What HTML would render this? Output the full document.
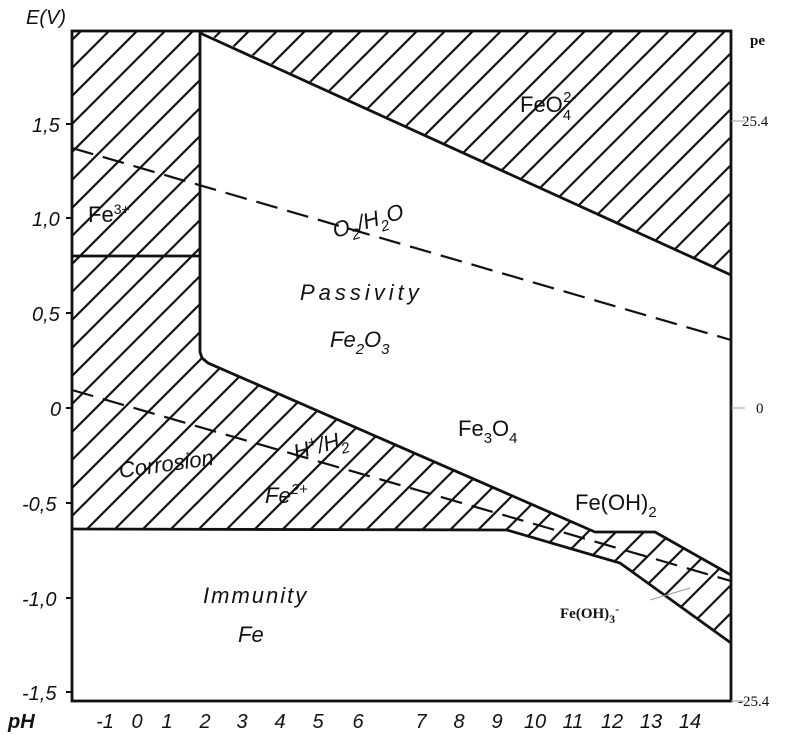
<!DOCTYPE html>
<html><head><meta charset="utf-8"><style>
body{margin:0;background:#fff;}
svg{display:block;}
.l{font-family:"Liberation Sans",sans-serif;font-style:italic;fill:#111;}
.s{font-family:"Liberation Serif",serif;font-weight:bold;fill:#111;}
</style></head><body>
<svg width="800" height="735" viewBox="0 0 800 735">
<defs>
<pattern id="h" patternUnits="userSpaceOnUse" width="28" height="28">
<path d="M-7,7 L7,-7 M0,28 L28,0 M21,35 L35,21" stroke="#111" stroke-width="2.2"/>
</pattern>
</defs>
<g fill="url(#h)" stroke="none">
<polygon points="72,31 200,31 200,355 207,362 595,532 655,532 731,575 731,643 620,563 507,530 72,530"/>
<polygon points="200,31 731,31 731,275"/>
</g>
<g stroke="#111" stroke-width="2.8" fill="none">
<rect x="72" y="31" width="659" height="670"/>
<polyline points="200,31 200,352 202,358 208,363 595,532 655,532 731,575"/>
<polyline points="72,529 507,530 620,563 731,643"/>
<line x1="200" y1="33" x2="731" y2="275"/>
<line x1="72" y1="256" x2="200" y2="256"/>
</g>
<g stroke="#111" stroke-width="2.2" stroke-dasharray="22,10" fill="none">
<line x1="72" y1="148" x2="731" y2="340"/>
<line x1="72" y1="390" x2="731" y2="581"/>
</g>
<g stroke="#111" stroke-width="2">
<line x1="66" y1="124" x2="72" y2="124"/><line x1="66" y1="218" x2="72" y2="218"/>
<line x1="66" y1="313" x2="72" y2="313"/><line x1="66" y1="408" x2="72" y2="408"/>
<line x1="66" y1="503" x2="72" y2="503"/><line x1="66" y1="598" x2="72" y2="598"/>
<line x1="66" y1="692" x2="72" y2="692"/>
</g>
<g stroke="#999" stroke-width="1">
<line x1="731" y1="121" x2="745" y2="121"/><line x1="731" y1="408" x2="745" y2="408"/>
<line x1="731" y1="701" x2="745" y2="701"/><line x1="650" y1="600" x2="690" y2="588"/>
</g>
<g class="l" font-size="20">
<text x="26" y="24">E(V)</text>
<text x="32" y="132">1,5</text><text x="32" y="226">1,0</text>
<text x="32" y="321">0,5</text><text x="50" y="416">0</text>
<text x="22" y="511">-0,5</text><text x="22" y="606">-1,0</text>
<text x="22" y="700">-1,5</text>
<text x="8" y="728" font-weight="bold">pH</text>
</g>
<g class="l" font-size="20" text-anchor="middle">
<text x="105" y="728">-1</text><text x="137" y="728">0</text><text x="167" y="728">1</text>
<text x="205" y="728">2</text><text x="242" y="728">3</text><text x="280" y="728">4</text>
<text x="318" y="728">5</text><text x="358" y="728">6</text><text x="421" y="728">7</text>
<text x="459" y="728">8</text><text x="497" y="728">9</text><text x="535" y="728">10</text>
<text x="573" y="728">11</text><text x="612" y="728">12</text><text x="651" y="728">13</text>
<text x="690" y="728">14</text>
</g>
<g class="s" font-size="15">
<text x="750" y="45">pe</text>
<text x="742" y="126" font-weight="normal">25.4</text>
<text x="756" y="413" font-weight="normal">0</text>
<text x="738" y="706" font-weight="normal">-25.4</text>
<text x="560" y="618">Fe(OH)<tspan font-size="12" dy="5">3</tspan><tspan font-size="12" dy="-10">-</tspan></text>
</g>
<g font-family="Liberation Sans,sans-serif" fill="#111" font-size="22">
<text x="88" y="222">Fe<tspan font-size="14" dy="-8">3+</tspan></text>
<text x="520" y="112">FeO<tspan font-size="15" dy="8">4</tspan><tspan font-size="15" dx="-8" dy="-18">2-</tspan></text>
<text x="458" y="436">Fe<tspan font-size="15" dy="7">3</tspan><tspan dy="-7">O</tspan><tspan font-size="15" dy="7">4</tspan></text>
<text x="575" y="510">Fe(OH)<tspan font-size="15" dy="7">2</tspan></text>
</g>
<g class="l" font-size="22">
<text x="300" y="300" letter-spacing="4">Passivity</text>
<text x="330" y="347">Fe<tspan font-size="15" dy="7">2</tspan><tspan dy="-7">O</tspan><tspan font-size="15" dy="7">3</tspan></text>
<text x="203" y="603" letter-spacing="2">Immunity</text>
<text x="238" y="642">Fe</text>
<text x="265" y="503">Fe<tspan font-size="15" dy="-9">2+</tspan></text>
<text x="120" y="478" transform="rotate(-8 120 478)">Corrosion</text>
<text x="335" y="238" transform="rotate(-16 335 238)">O<tspan font-size="15" dy="7">2</tspan><tspan dy="-7">/H</tspan><tspan font-size="15" dy="7">2</tspan><tspan dy="-7">O</tspan></text>
<text x="296" y="460" transform="rotate(-16 296 460)">H<tspan font-size="15" dy="-8">+</tspan><tspan dy="8">/H</tspan><tspan font-size="15" dy="7">2</tspan></text>
</g>
</svg>
</body></html>
